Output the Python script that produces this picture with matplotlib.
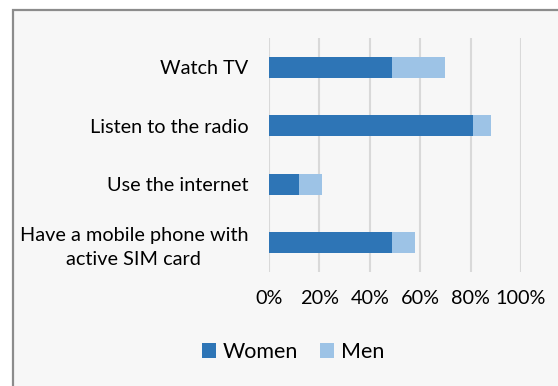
import matplotlib
matplotlib.use("Agg")
import matplotlib.pyplot as plt
from matplotlib.patches import Rectangle, Patch
from matplotlib.ticker import FuncFormatter

categories = ["Have a mobile phone with\nactive SIM card", "Use the internet",
              "Listen to the radio", "Watch TV"]
women = [49, 12, 81, 49]
men = [9, 9, 7, 21]
xticks = [0, 20, 40, 60, 80, 100]
series_names = ["Women", "Men"]

c_women = "#2E75B6"
c_men = "#9DC3E6"
bg = "#F7F7F7"

plt.rcParams['font.family'] = ['Lato', 'DejaVu Sans']
fs = 14.3

fig = plt.figure(figsize=(5.58, 3.86), dpi=100)
fig.patch.set_facecolor("white")
fig.patches.append(Rectangle((12.5 / 558, -0.1), 1.2, 1.1 - 9.5 / 386,
                             transform=fig.transFigure, facecolor=bg,
                             edgecolor="#8C8C8C", linewidth=1.6, zorder=-10))

ax = fig.add_axes([269 / 558, 1 - 271.7 / 386, (521 - 269) / 558, (271.7 - 38) / 386])
ax.set_zorder(1)
ax.patch.set_alpha(0)

y = range(len(categories))
ax.barh(y, women, height=0.36, color=c_women, zorder=3, label=series_names[0])
ax.barh(y, men, left=women, height=0.36, color=c_men, zorder=3, label=series_names[1])

ax.set_xlim(0, 100)
ax.set_ylim(-0.5, len(categories) - 0.5)
ax.set_xticks(xticks)
ax.xaxis.set_major_formatter(FuncFormatter(lambda v, p: f"{int(v)}%"))
ax.set_yticks(list(y))
ax.set_yticklabels(categories, multialignment="center", linespacing=1.5)
ax.grid(axis="x", color="#D9D9D9", linewidth=1.5, zorder=0)
for s in ax.spines.values():
    s.set_visible(False)
ax.tick_params(axis="both", length=0, labelsize=fs, colors="#000000")
ax.tick_params(axis="y", pad=15)
ax.tick_params(axis="x", pad=13)

handles = [Patch(facecolor=c_women), Patch(facecolor=c_men)]
fig.legend(handles, series_names, loc="center", bbox_to_anchor=(293 / 558, 1 - 352 / 386),
           ncol=2, frameon=False, fontsize=15.5, handlelength=0.65, handleheight=0.65,
           handletextpad=0.3, columnspacing=1.05)

fig.savefig("out.png", dpi=100, facecolor=fig.get_facecolor())
